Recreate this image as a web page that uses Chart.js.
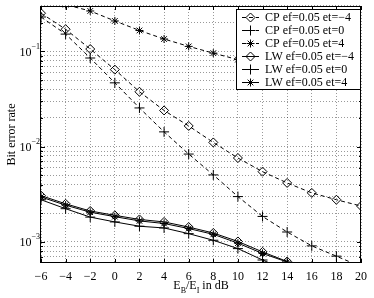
<!DOCTYPE html>
<html><head><meta charset="utf-8">
<script src="https://cdn.jsdelivr.net/npm/chart.js@4/dist/chart.umd.min.js"></script>
<style>html,body{margin:0;padding:0;background:#fff}#wrap{width:374px;height:298px}</style>
</head><body><div id="wrap"><canvas id="c" width="374" height="298"></canvas></div>
<script>
const snr = [-6,-4,-2,0,2,4,6,8,10,12,14,16,18,20];
const cpEtM4 = [0.252,0.171,0.106,0.0644,0.0377,0.0240,0.0165,0.01107,0.0076,0.00546,0.00416,0.00327,0.00277,0.00238];
const cpEt0  = [0.230,0.152,0.0853,0.0468,0.0255,0.0143,0.00836,0.00505,0.00299,0.00185,0.00127,0.000908,0.000708,0.00055];
const cpEt4  = [0.38,0.31,0.266,0.209,0.166,0.135,0.113,0.096,0.082,0.072,0.066,0.062,0.058,0.0557];
const lwEtM4 = [0.00306,0.00251,0.00211,0.00190,0.00172,0.00162,0.00143,0.00124,0.00101,0.000785,0.000622,0.00048,0.00037,0.00029];
const lwEt0  = [0.00277,0.00223,0.00182,0.00162,0.00146,0.00140,0.00122,0.00104,0.00085,0.000645,0.00050,0.00039,0.00030,0.00024];
const lwEt4  = [0.00296,0.00243,0.00205,0.00184,0.00166,0.00156,0.00138,0.00120,0.00097,0.000755,0.000615,0.00047,0.00036,0.00028];
const seriesLabels = ['CP ef=0.05 et=\u22124','CP ef=0.05 et=0','CP ef=0.05 et=4','LW ef=0.05 et=\u22124','LW ef=0.05 et=0','LW ef=0.05 et=4'];
const xTitle = [['E',0],['B',1],['/E',0],['I',1],[' in dB',0]];
const yTitle = 'Bit error rate';
const yDecadeExps = [-3,-2,-1];
const X_MIN = -6, X_MAX = 20, Y_MIN = 6.2e-4, Y_MAX = 0.3;

const FONT = '"Liberation Serif", "Times New Roman", serif';
const styles = ['rectRot','cross','star','rectRot','cross','star'];
const dashed = [true,true,true,false,false,false];
const radii = {rectRot:4.5, cross:5, star:4};
const allData = [cpEtM4, cpEt0, cpEt4, lwEtM4, lwEt0, lwEt4];

const datasets = allData.map((arr,i)=>({
  label: seriesLabels[i],
  data: snr.map((x,j)=>({x:x, y:arr[j]})),
  borderColor:'#000', backgroundColor:'rgba(0,0,0,0)', borderWidth:1,
  borderDash: dashed[i] ? [4,3] : [],
  pointStyle: styles[i], pointRadius: radii[styles[i]],
  pointBorderColor:'#000', pointBackgroundColor:'rgba(0,0,0,0)', pointBorderWidth:1,
  pointHoverRadius: radii[styles[i]],
  tension:0, fill:false
}));

function yTickValues(){
  const out=[];
  for(let e=-4;e<=0;e++){ for(let m=1;m<=9;m++){ const v=m*Math.pow(10,e); if(v>=Y_MIN*1.001 && v<=Y_MAX*1.0001) out.push(v);} }
  return out;
}

function marker(ctx, style, x, y, r){
  ctx.beginPath();
  if(style==='rectRot'){ ctx.moveTo(x,y-r); ctx.lineTo(x+r,y); ctx.lineTo(x,y+r); ctx.lineTo(x-r,y); ctx.closePath(); }
  else if(style==='cross'){ ctx.moveTo(x-r,y); ctx.lineTo(x+r,y); ctx.moveTo(x,y-r); ctx.lineTo(x,y+r); }
  else { ctx.moveTo(x-r,y); ctx.lineTo(x+r,y); ctx.moveTo(x,y-r); ctx.lineTo(x,y+r);
    const d=r*Math.SQRT1_2; ctx.moveTo(x-d,y-d); ctx.lineTo(x+d,y+d); ctx.moveTo(x-d,y+d); ctx.lineTo(x+d,y-d); }
  ctx.stroke();
}

const decor = {
  id:'decor',
  afterDraw(chart){
    const ctx=chart.ctx, ca=chart.chartArea, xs=chart.scales.x, ys=chart.scales.y;
    ctx.save();
    ctx.strokeStyle='#000'; ctx.fillStyle='#000'; ctx.lineWidth=1; ctx.setLineDash([]);
    ctx.strokeRect(Math.round(ca.left)-0.5, Math.round(ca.top)+0.5, Math.round(ca.right-ca.left)+0, Math.round(ca.bottom-ca.top)-1);
    ctx.beginPath();
    for(let v=X_MIN; v<=X_MAX; v+=2){ const x=Math.round(xs.getPixelForValue(v))+0.5;
      ctx.moveTo(x,ca.bottom); ctx.lineTo(x,ca.bottom-4); ctx.moveTo(x,ca.top); ctx.lineTo(x,ca.top+4); }
    yTickValues().forEach(v=>{ const y=Math.round(ys.getPixelForValue(v))+0.5;
      const major = Math.abs(Math.log10(v)-Math.round(Math.log10(v)))<1e-6; const L = major?4:2;
      ctx.moveTo(ca.left,y); ctx.lineTo(ca.left+L,y); ctx.moveTo(ca.right,y); ctx.lineTo(ca.right-L,y); });
    ctx.stroke();
    yDecadeExps.forEach(e=>{
      const y=ys.getPixelForValue(Math.pow(10,e));
      const es='\u2212'+Math.abs(e);
      ctx.font='8px '+FONT; const ew=ctx.measureText(es).width;
      const xr=ca.left-1;
      ctx.textAlign='left'; ctx.textBaseline='middle';
      ctx.fillText(es, xr-ew, y-5);
      ctx.font='12px '+FONT; ctx.textAlign='right';
      ctx.fillText('10', xr-ew, y+1);
    });
    ctx.save(); ctx.translate(11.5,(ca.top+ca.bottom)/2); ctx.rotate(-Math.PI/2);
    ctx.font='12px '+FONT; ctx.textAlign='center'; ctx.textBaseline='middle';
    ctx.fillText(yTitle,0,0); ctx.restore();
    let tw=0; xTitle.forEach(p=>{ ctx.font=(p[1]?'8px ':'12px ')+FONT; tw+=ctx.measureText(p[0]).width; });
    let tx=(ca.left+ca.right)/2 - tw/2; ctx.textAlign='left'; ctx.textBaseline='alphabetic';
    xTitle.forEach(p=>{ ctx.font=(p[1]?'8px ':'12px ')+FONT; ctx.fillText(p[0],tx,p[1]?292.5:289); tx+=ctx.measureText(p[0]).width; });
    const lw=124, lh=80, lx=Math.round(ca.right)-125, ly=Math.round(ca.top)+3;
    ctx.fillStyle='#fff'; ctx.fillRect(lx,ly,lw,lh);
    ctx.strokeRect(lx+0.5,ly+0.5,lw,lh);
    ctx.font='12px '+FONT; ctx.textAlign='left'; ctx.textBaseline='middle';
    seriesLabels.forEach((lab,i)=>{
      const cy=ly+8.5+i*13;
      ctx.setLineDash(dashed[i]?[4,3]:[]);
      ctx.beginPath(); ctx.moveTo(lx+6,cy); ctx.lineTo(lx+23,cy); ctx.stroke();
      ctx.setLineDash([]);
      marker(ctx, styles[i], lx+14.5, cy, radii[styles[i]]);
      ctx.fillStyle='#000'; ctx.fillText(lab, lx+29, cy+0.5);
    });
    ctx.restore();
  }
};

const gridOpts = {color:'rgba(0,0,0,0.4)', lineWidth:1, drawTicks:false, borderDash:[1,2]};
new Chart(document.getElementById('c'), {
  type:'line',
  data:{datasets},
  options:{
    responsive:false, animation:false, devicePixelRatio:1,
    layout:{padding:{top:6,right:10,left:0,bottom:0}},
    plugins:{legend:{display:false}, tooltip:{enabled:false}},
    scales:{
      x:{type:'linear', min:X_MIN, max:X_MAX,
        ticks:{stepSize:2, color:'#000', padding:7, font:{family:FONT,size:12}, maxRotation:0,
          callback:v=>String(v).replace('-','\u2212')},
        grid:gridOpts, border:{display:false, dash:[1,2]},
        afterFit:s=>{s.height=35;}},
      y:{type:'logarithmic', min:Y_MIN, max:Y_MAX,
        ticks:{display:false},
        afterBuildTicks:s=>{s.ticks=yTickValues().map(v=>({value:v}));},
        grid:gridOpts, border:{display:false, dash:[1,2]},
        afterFit:s=>{s.width=41;}}
    }
  },
  plugins:[decor]
});
</script></body></html>
